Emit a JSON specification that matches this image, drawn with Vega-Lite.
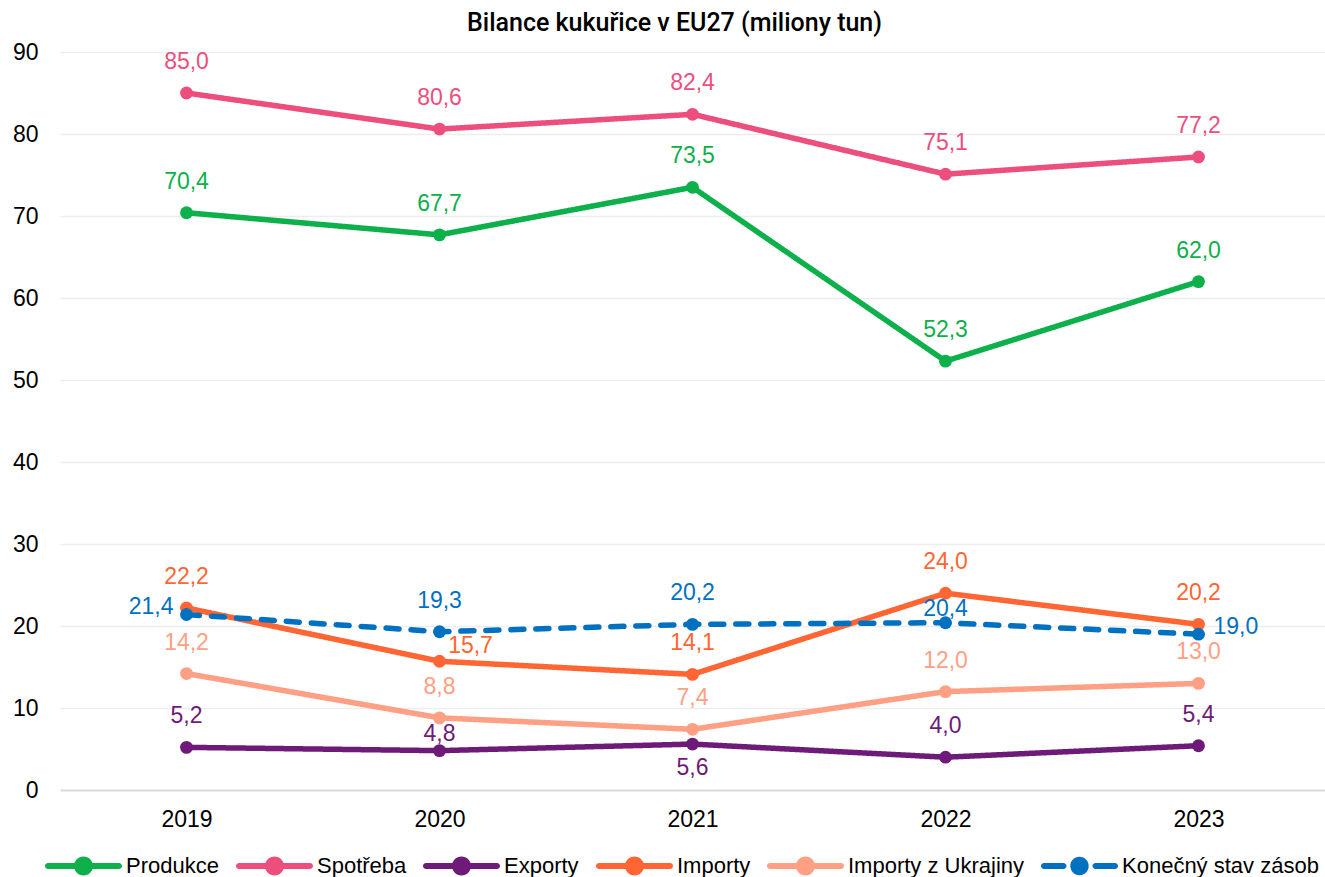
{
  "$schema": "https://vega.github.io/schema/vega-lite/v6.json",
  "autosize": "none",
  "width": 1265,
  "height": 738,
  "padding": {"left": 60, "top": 52, "right": 0, "bottom": 87},
  "background": "white",
  "config": {
    "view": {"stroke": null},
    "font": "Liberation Sans",
    "locale": {"number": {"decimal": ",", "thousands": " ", "grouping": [3], "currency": ["", " Kč"]}}
  },
  "title": {
    "text": "Bilance kukuřice v EU27 (miliony tun)",
    "font": "Roboto",
    "fontSize": 25,
    "fontWeight": 500,
    "color": "#000000",
    "anchor": "middle",
    "dx": -18,
    "offset": 5
  },
  "data": {
    "values": [
      {"rok": "2019", "rada": "Produkce", "hodnota": 70.4},
      {"rok": "2020", "rada": "Produkce", "hodnota": 67.7},
      {"rok": "2021", "rada": "Produkce", "hodnota": 73.5},
      {"rok": "2022", "rada": "Produkce", "hodnota": 52.3},
      {"rok": "2023", "rada": "Produkce", "hodnota": 62.0},
      {"rok": "2019", "rada": "Spotřeba", "hodnota": 85.0},
      {"rok": "2020", "rada": "Spotřeba", "hodnota": 80.6},
      {"rok": "2021", "rada": "Spotřeba", "hodnota": 82.4},
      {"rok": "2022", "rada": "Spotřeba", "hodnota": 75.1},
      {"rok": "2023", "rada": "Spotřeba", "hodnota": 77.2},
      {"rok": "2019", "rada": "Exporty", "hodnota": 5.2},
      {"rok": "2020", "rada": "Exporty", "hodnota": 4.8},
      {"rok": "2021", "rada": "Exporty", "hodnota": 5.6},
      {"rok": "2022", "rada": "Exporty", "hodnota": 4.0},
      {"rok": "2023", "rada": "Exporty", "hodnota": 5.4},
      {"rok": "2019", "rada": "Importy", "hodnota": 22.2},
      {"rok": "2020", "rada": "Importy", "hodnota": 15.7},
      {"rok": "2021", "rada": "Importy", "hodnota": 14.1},
      {"rok": "2022", "rada": "Importy", "hodnota": 24.0},
      {"rok": "2023", "rada": "Importy", "hodnota": 20.2},
      {"rok": "2019", "rada": "Importy z Ukrajiny", "hodnota": 14.2},
      {"rok": "2020", "rada": "Importy z Ukrajiny", "hodnota": 8.8},
      {"rok": "2021", "rada": "Importy z Ukrajiny", "hodnota": 7.4},
      {"rok": "2022", "rada": "Importy z Ukrajiny", "hodnota": 12.0},
      {"rok": "2023", "rada": "Importy z Ukrajiny", "hodnota": 13.0},
      {"rok": "2019", "rada": "Konečný stav zásob", "hodnota": 21.4},
      {"rok": "2020", "rada": "Konečný stav zásob", "hodnota": 19.3},
      {"rok": "2021", "rada": "Konečný stav zásob", "hodnota": 20.2},
      {"rok": "2022", "rada": "Konečný stav zásob", "hodnota": 20.4},
      {"rok": "2023", "rada": "Konečný stav zásob", "hodnota": 19.0}
    ]
  },
  "encoding": {
    "x": {
      "field": "rok",
      "type": "ordinal",
      "scale": {"type": "point", "padding": 0.5},
      "axis": {
        "title": null,
        "labelAngle": 0,
        "labelFontSize": 23,
        "labelColor": "#000000",
        "labelPadding": 18,
        "domain": false,
        "ticks": false,
        "grid": false
      }
    },
    "y": {
      "field": "hodnota",
      "type": "quantitative",
      "scale": {"domain": [0, 90], "nice": false},
      "axis": {
        "title": null,
        "values": [0, 10, 20, 30, 40, 50, 60, 70, 80, 90],
        "labelFontSize": 23,
        "labelColor": "#000000",
        "labelPadding": 22,
        "domain": false,
        "ticks": false,
        "gridColor": {"condition": {"test": "datum.value === 0", "value": "#D9D9D9"}, "value": "#EDEDED"},
        "gridWidth": {"condition": {"test": "datum.value === 0", "value": 2}, "value": 1.5}
      }
    },
    "color": {
      "field": "rada",
      "type": "nominal",
      "sort": ["Produkce", "Spotřeba", "Exporty", "Importy", "Importy z Ukrajiny", "Konečný stav zásob"],
      "scale": {
        "domain": ["Produkce", "Spotřeba", "Exporty", "Importy", "Importy z Ukrajiny", "Konečný stav zásob"],
        "range": ["#0DB04B", "#EC4F7E", "#6E1A78", "#FF6633", "#FFA084", "#0070C0"]
      }
    }
  },
  "layer": [
    {
      "mark": {"type": "line", "strokeWidth": 5.5, "strokeCap": "round"},
      "encoding": {
        "strokeDash": {
          "field": "rada",
          "type": "nominal",
          "scale": {
            "domain": ["Produkce", "Spotřeba", "Exporty", "Importy", "Importy z Ukrajiny", "Konečný stav zásob"],
            "range": [[1, 0], [1, 0], [1, 0], [1, 0], [1, 0], [13, 12]]
          },
          "legend": null
        },
        "color": {
          "field": "rada",
          "type": "nominal",
          "sort": ["Produkce", "Spotřeba", "Exporty", "Importy", "Importy z Ukrajiny", "Konečný stav zásob"],
          "legend": {
            "title": null,
            "orient": "none",
            "legendX": 12.5,
            "legendY": 803,
            "direction": "horizontal",
            "columns": 6,
            "columnPadding": 16,
            "labelFontSize": 22,
            "labelLimit": 400,
            "labelColor": "#000000",
            "labelOffset": 31.5,
            "symbolSize": 400,
            "symbolType": "circle",
            "symbolStrokeWidth": 0,
            "encode": {
              "symbols": {
                "update": {
                  "shape": {"signal": "datum.value === 'Konečný stav zásob' ? 'M-3.55,-0.3 H-1.6 A0.3,0.3 0 0,1 -1.6,0.3 H-3.55 A0.3,0.3 0 0,1 -3.55,-0.3 Z M1.6,-0.3 H3.55 A0.3,0.3 0 0,1 3.55,0.3 H1.6 A0.3,0.3 0 0,1 1.6,-0.3 Z M-0.92,0 A0.92,0.92 0 1,1 0.92,0 A0.92,0.92 0 1,1 -0.92,0 Z' : 'M-3.55,-0.3 H3.55 A0.3,0.3 0 0,1 3.55,0.3 H-3.55 A0.3,0.3 0 0,1 -3.55,-0.3 Z M-0.95,0 A0.95,0.95 0 1,1 0.95,0 A0.95,0.95 0 1,1 -0.95,0 Z'"},
                  "fill": {"scale": "color", "field": "value"},
                  "fillOpacity": {"value": 1},
                  "strokeWidth": {"value": 0},
                  "opacity": {"value": 1}
                }
              }
            }
          }
        }
      }
    },
    {
      "mark": {"type": "point", "filled": true, "size": 165, "opacity": 1},
      "encoding": {"shape": {"value": "circle"}}
    },
    {
      "transform": [
        {"filter": "!((datum.rada === 'Exporty' && (datum.rok === '2020' || datum.rok === '2021')) || (datum.rada === 'Importy' && datum.rok === '2020') || (datum.rada === 'Konečný stav zásob' && (datum.rok === '2019' || datum.rok === '2022' || datum.rok === '2023')))"}
      ],
      "mark": {"type": "text", "fontSize": 23, "dy": -31, "baseline": "middle"},
      "encoding": {"text": {"field": "hodnota", "type": "quantitative", "format": ".1f"}}
    },
    {
      "transform": [{"filter": "datum.rada === 'Exporty' && datum.rok === '2020'"}],
      "mark": {"type": "text", "fontSize": 23, "dy": -17, "baseline": "middle"},
      "encoding": {"text": {"field": "hodnota", "type": "quantitative", "format": ".1f"}}
    },
    {
      "transform": [{"filter": "datum.rada === 'Exporty' && datum.rok === '2021'"}],
      "mark": {"type": "text", "fontSize": 23, "dy": 24, "baseline": "middle"},
      "encoding": {"text": {"field": "hodnota", "type": "quantitative", "format": ".1f"}}
    },
    {
      "transform": [{"filter": "datum.rada === 'Importy' && datum.rok === '2020'"}],
      "mark": {"type": "text", "fontSize": 23, "dx": 31, "dy": -15, "baseline": "middle"},
      "encoding": {"text": {"field": "hodnota", "type": "quantitative", "format": ".1f"}}
    },
    {
      "transform": [{"filter": "datum.rada === 'Konečný stav zásob' && datum.rok === '2019'"}],
      "mark": {"type": "text", "fontSize": 23, "align": "right", "dx": -13, "dy": -8, "baseline": "middle"},
      "encoding": {"text": {"field": "hodnota", "type": "quantitative", "format": ".1f"}}
    },
    {
      "transform": [{"filter": "datum.rada === 'Konečný stav zásob' && datum.rok === '2022'"}],
      "mark": {"type": "text", "fontSize": 23, "dy": -14, "baseline": "middle"},
      "encoding": {"text": {"field": "hodnota", "type": "quantitative", "format": ".1f"}}
    },
    {
      "transform": [{"filter": "datum.rada === 'Konečný stav zásob' && datum.rok === '2023'"}],
      "mark": {"type": "text", "fontSize": 23, "align": "left", "dx": 15, "dy": -7, "baseline": "middle"},
      "encoding": {"text": {"field": "hodnota", "type": "quantitative", "format": ".1f"}}
    }
  ]
}
